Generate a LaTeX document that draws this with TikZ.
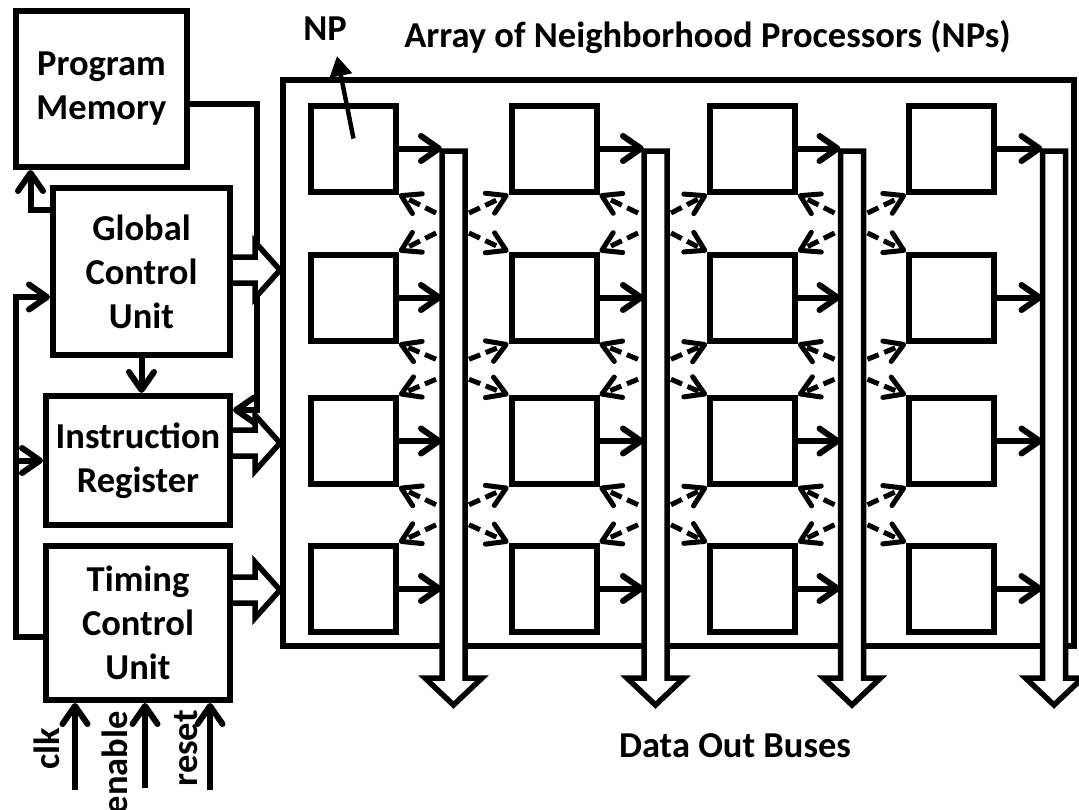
\documentclass[tikz,border=0pt]{standalone}
\usepackage{fontspec}
\setmainfont{Carlito}
\usetikzlibrary{arrows.meta,calc}
\newcommand\harrow[2]{%
  \draw[hollow] ($(#1)+(0,-13)$) -- ($(#2)+(-25,-13)$) -- ($(#2)+(-25,-28)$) -- (#2)
    -- ($(#2)+(-25,28)$) -- ($(#2)+(-25,13)$) -- ($(#1)+(0,13)$);}
\newcommand\vbus[1]{%
  \draw[hollow] (#1.south west) -- (#1.north west) -- (#1.north east) -- (#1.south east)
    -- ($(#1.south east)+(17,0)$) -- ($(#1.south)+(0,27)$) -- ($(#1.south west)+(-17,0)$) -- cycle;}
\begin{document}
\begin{tikzpicture}[x=1pt,y=-1pt,
  every node/.style={inner sep=0pt,font=\bfseries\fontsize{36.5}{44}\selectfont},
  blk/.style={draw,line width=6pt,align=center},
  npbox/.style={draw,line width=6pt,minimum width=85pt,minimum height=86pt},
  shaftnode/.style={minimum width=23pt,minimum height=527pt,outer sep=0pt},
  sarrow/.style={line width=6pt,-{Straight Barb[length=18pt,width=25pt,round]}},
  darrow/.style={line width=5pt,dash pattern=on 12pt off 6pt,-{Straight Barb[length=18pt,width=22pt,round]}},
  hollow/.style={draw,line width=5.5pt,fill=white,line join=miter},
  nparrow/.style={line width=4.5pt,-{Triangle[length=20pt,width=22pt]}},
]
\useasboundingbox (0,0) rectangle (1079,809);
\fill[white] (0,0) rectangle (1079,809);

% array of NPs
\node[draw,line width=6pt,minimum width=791pt,minimum height=566pt] (arr) at (678.5,363) {};
\foreach \c/\x in {1/353.5,2/554,3/752.5,4/951.5}{
  \foreach \r/\y in {1/148.5,2/297.5,3/441,4/588.5}{
    \node[npbox] (np-\c-\r) at (\x,\y) {};
  }
}
\node[shaftnode] (b1) at (453.5,414.5) {};
\node[shaftnode] (b2) at (655.5,414.5) {};
\node[shaftnode] (b3) at (852,414.5) {};
\node[shaftnode] (b4) at (1054,414.5) {};
\foreach \c in {1,2,3,4}{
  \foreach \r in {1,2,3,4}{
    \draw[sarrow] (np-\c-\r.east) -- (np-\c-\r.east -| b\c.west);
  }
}
\foreach \c in {1,2,3}{
  \pgfmathtruncatemacro\cn{\c+1}
  \foreach \r in {1,2,3}{
    \pgfmathtruncatemacro\rn{\r+1}
    \coordinate (m) at ($(np-\c-\r.south)!0.5!(np-\c-\rn.north)$);
    \draw[darrow] ($(m -| b\c.west)+(-6,-10)$) -- (np-\c-\r.south east);
    \draw[darrow] ($(m -| b\c.west)+(-6,10)$) -- (np-\c-\rn.north east);
    \draw[darrow] ($(m -| b\c.east)+(4,-10)$) -- (np-\cn-\r.south west);
    \draw[darrow] ($(m -| b\c.east)+(4,10)$) -- (np-\cn-\rn.north west);
  }
}
\vbus{b1}
\vbus{b2}
\vbus{b3}
\vbus{b4}

% left blocks
\node[blk,minimum width=171pt,minimum height=156pt] (pm) at (101.5,89) {Program\\Memory};
\node[blk,minimum width=177pt,minimum height=167pt] (gcu) at (141.5,271.5) {Global\\Control\\Unit};
\node[blk,minimum width=184pt,minimum height=129pt] (ir) at (138,460.5) {Instruction\\Register};
\node[blk,minimum width=184pt,minimum height=154pt] (tcu) at (138,623) {Timing\\Control\\Unit};

% connectors on the left
\coordinate (pmj) at (257,104);
\draw[sarrow] ([yshift=61.5pt]gcu.west) -| ([xshift=-71pt]pm.south);
\draw[sarrow] ([yshift=-15pt]pm.east) -| ([yshift=50.5pt]ir.east -| pmj) -- ([yshift=50.5pt]ir.east);
\draw[sarrow] (gcu.south) -- (gcu.south |- ir.north);
\coordinate (fb) at (16,297);
\draw[sarrow] ([yshift=-14pt]tcu.west) -| (fb) -- (fb -| gcu.west);
\draw[sarrow] (fb |- ir.west) -- (ir.west);

\coordinate (gS) at ([yshift=1.5pt]gcu.east);
\coordinate (gT) at (gS -| arr.west);
\coordinate (iS) at ([yshift=17.5pt]ir.east);
\coordinate (iT) at (iS -| arr.west);
\coordinate (tS) at ([yshift=33pt]tcu.east);
\coordinate (tT) at (tS -| arr.west);
\harrow{gS}{gT}
\harrow{iS}{iT}
\harrow{tS}{tT}

% inputs
\coordinate (clkin) at (75,790);
\coordinate (enin) at (145,788);
\coordinate (rsin) at (210,790);
\draw[sarrow] (clkin) -- (clkin |- tcu.south);
\draw[sarrow] (enin) -- (enin |- tcu.south);
\draw[sarrow] (rsin) -- (rsin |- tcu.south);
\node[rotate=90,anchor=base east] (clk) at (59,728) {clk};
\node[rotate=90,anchor=base east] (enable) at (127,711) {enable};
\node[rotate=90,anchor=base east] (reset) at (197,710) {reset};

% labels
\node[anchor=base] (nplbl) at (325,40) {NP};
\coordinate (nptip) at (337,56);
\draw[nparrow] ([yshift=10pt]np-1-1.center) -- (nptip);
\node[anchor=base] (title) at (707.5,47) {Array of Neighborhood Processors (NPs)};
\node[anchor=base] (dob) at (735,757) {Data Out Buses};
\end{tikzpicture}
\end{document}
